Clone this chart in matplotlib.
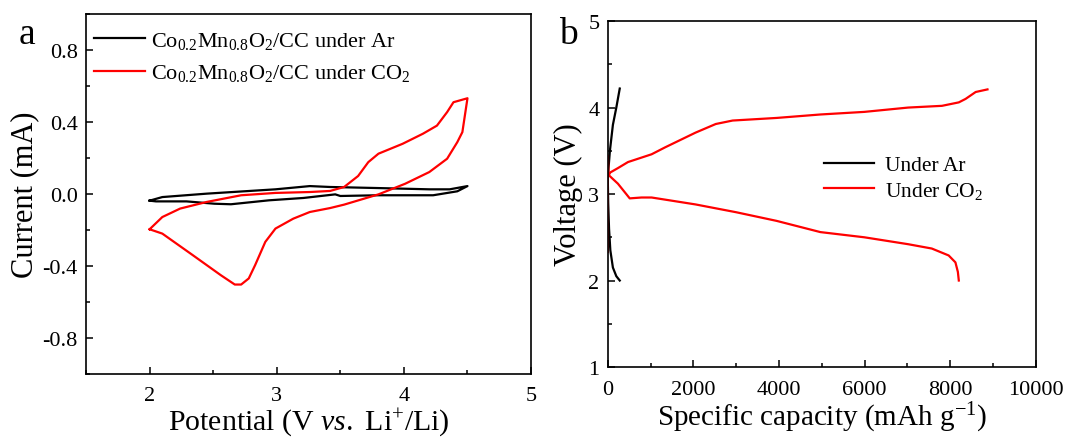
import matplotlib
matplotlib.use('Agg')
import matplotlib.pyplot as plt
from matplotlib.ticker import MultipleLocator

plt.rcParams['font.family'] = ['Liberation Serif', 'DejaVu Serif']
plt.rcParams['mathtext.fontset'] = 'custom'
plt.rcParams['mathtext.rm'] = 'Liberation Serif'
plt.rcParams['mathtext.it'] = 'Liberation Serif:italic'
plt.rcParams['axes.unicode_minus'] = False

# a) CV, Ar (loop: anodic then cathodic)
cv_ar_E = [2.0, 2.10, 2.45, 2.99, 3.26, 3.42, 3.80, 4.20, 4.36, 4.50,
           4.42, 4.23, 3.80, 3.50, 3.46, 3.21, 2.94, 2.64, 2.51, 2.29, 2.05, 2.0]
cv_ar_I = [-0.037, -0.017, 0.002, 0.026, 0.044, 0.039, 0.033, 0.026, 0.026, 0.044,
           0.015, -0.007, -0.007, -0.011, -0.002, -0.022, -0.035, -0.057, -0.054, -0.041, -0.041, -0.037]

# a) CV, CO2
cv_co2_E = [2.0, 2.10, 2.24, 2.45, 2.72, 2.99, 3.26, 3.42, 3.53, 3.64, 3.72, 3.80,
            3.99, 4.15, 4.26, 4.34, 4.39, 4.50,
            4.46, 4.42, 4.34, 4.20, 4.01, 3.80, 3.53, 3.42, 3.26, 3.13, 2.99, 2.91,
            2.83, 2.78, 2.72, 2.67, 2.56, 2.34, 2.21, 2.10, 2.0]
cv_co2_I = [-0.196, -0.128, -0.081, -0.044, -0.007, 0.006, 0.011, 0.017, 0.039, 0.10, 0.177, 0.224,
            0.279, 0.335, 0.38, 0.455, 0.51, 0.532,
            0.344, 0.288, 0.196, 0.122, 0.057, -0.002, -0.059, -0.078, -0.10, -0.137, -0.192, -0.266,
            -0.395, -0.469, -0.503, -0.503, -0.451, -0.34, -0.275, -0.22, -0.196]

# b) charge / discharge, Ar
ar_chg_cap = [0, 10, 50, 120, 200, 280]
ar_chg_V = [3.2, 3.25, 3.5, 3.8, 4.0, 4.22]
ar_dis_cap = [0, 10, 30, 60, 120, 200, 280]
ar_dis_V = [3.2, 2.9, 2.6, 2.35, 2.15, 2.05, 2.0]

# b) charge / discharge, CO2
co2_chg_cap = [0, 0, 60, 237, 473, 1025, 1340, 2050, 2524, 2918, 3943, 4968, 5994,
               7019, 7808, 8202, 8360, 8596, 8872]
co2_chg_V = [2.33, 3.2, 3.25, 3.30, 3.37, 3.46, 3.54, 3.71, 3.81, 3.85, 3.88, 3.92, 3.95,
             4.0, 4.02, 4.06, 4.10, 4.18, 4.21]
co2_dis_cap = [0, 20, 237, 513, 789, 1025, 2050, 2997, 3943, 4968, 5994, 7019, 7571,
               7965, 8123, 8180, 8202]
co2_dis_V = [3.44, 3.22, 3.12, 2.95, 2.96, 2.96, 2.88, 2.79, 2.69, 2.56, 2.50, 2.42, 2.37,
             2.29, 2.21, 2.10, 2.0]

fig = plt.figure(figsize=(10.7, 4.39), dpi=100)
ax1 = fig.add_axes([0.0804, 0.1458, 0.4159, 0.82])
ax2 = fig.add_axes([0.568, 0.1617, 0.4, 0.788])

lw = 1.6
ax1.plot(cv_ar_E, cv_ar_I, color='black', lw=lw,
         label=r'Co$_{0.2}$Mn$_{0.8}$O$_2$/CC under Ar')
ax1.plot(cv_co2_E, cv_co2_I, color='red', lw=lw,
         label=r'Co$_{0.2}$Mn$_{0.8}$O$_2$/CC under CO$_2$')
ax1.set_xlim(1.5, 5)
ax1.set_ylim(-1.0, 1.0)
ax1.xaxis.set_major_locator(MultipleLocator(1))
ax1.xaxis.set_minor_locator(MultipleLocator(0.5))
ax1.set_yticks([-0.8, -0.4, 0.0, 0.4, 0.8])
ax1.set_yticklabels(['-0.8', '-0.4', '0.0', '0.4', '0.8'])
ax1.yaxis.set_minor_locator(MultipleLocator(0.2))
ax1.set_xlabel(r'Potential (V $\mathit{vs.}$ Li$^{+}$/Li)', fontsize=21.5, labelpad=0)
ax1.set_ylabel('Current (mA)', fontsize=22, labelpad=2)
ax1.legend(loc='upper left', frameon=False, fontsize=16, handlelength=2.3,
           handletextpad=0.25, labelspacing=0.5, borderaxespad=0, borderpad=0,
           bbox_to_anchor=(0.018, 0.955))
fig.text(0.017, 0.9, 'a', fontsize=27)

ax2.plot(ar_chg_cap, ar_chg_V, color='black', lw=lw, label='Under Ar')
ax2.plot(ar_dis_cap, ar_dis_V, color='black', lw=lw)
ax2.plot(co2_chg_cap, co2_chg_V, color='red', lw=lw, label=r'Under CO$_2$')
ax2.plot(co2_dis_cap, co2_dis_V, color='red', lw=lw)
ax2.set_xlim(0, 10000)
ax2.set_ylim(1, 5)
ax2.xaxis.set_major_locator(MultipleLocator(2000))
ax2.xaxis.set_minor_locator(MultipleLocator(1000))
ax2.yaxis.set_major_locator(MultipleLocator(1))
ax2.yaxis.set_minor_locator(MultipleLocator(0.5))
ax2.set_xlabel(r'Specific capacity (mAh g$^{-1}$)', fontsize=21, labelpad=1)
ax2.set_ylabel('Voltage (V)', fontsize=22, labelpad=4)
ax2.legend(loc='upper left', frameon=False, fontsize=15.5, handlelength=2.3,
           handletextpad=0.5, labelspacing=0.2, borderaxespad=0, borderpad=0,
           bbox_to_anchor=(0.506, 0.612))
fig.text(0.522, 0.9, 'b', fontsize=27)

for ax in (ax1, ax2):
    ax.tick_params(which='both', direction='in', top=False, right=False,
                   labelsize=16, width=1.1)
    ax.tick_params(axis='x', which='major', pad=9)
    ax.tick_params(axis='y', which='major', pad=6)
    ax.tick_params(which='major', length=5)
    ax.tick_params(which='minor', length=3)
    for s in ax.spines.values():
        s.set_linewidth(1.2)

fig.savefig('out.png', dpi=100)
